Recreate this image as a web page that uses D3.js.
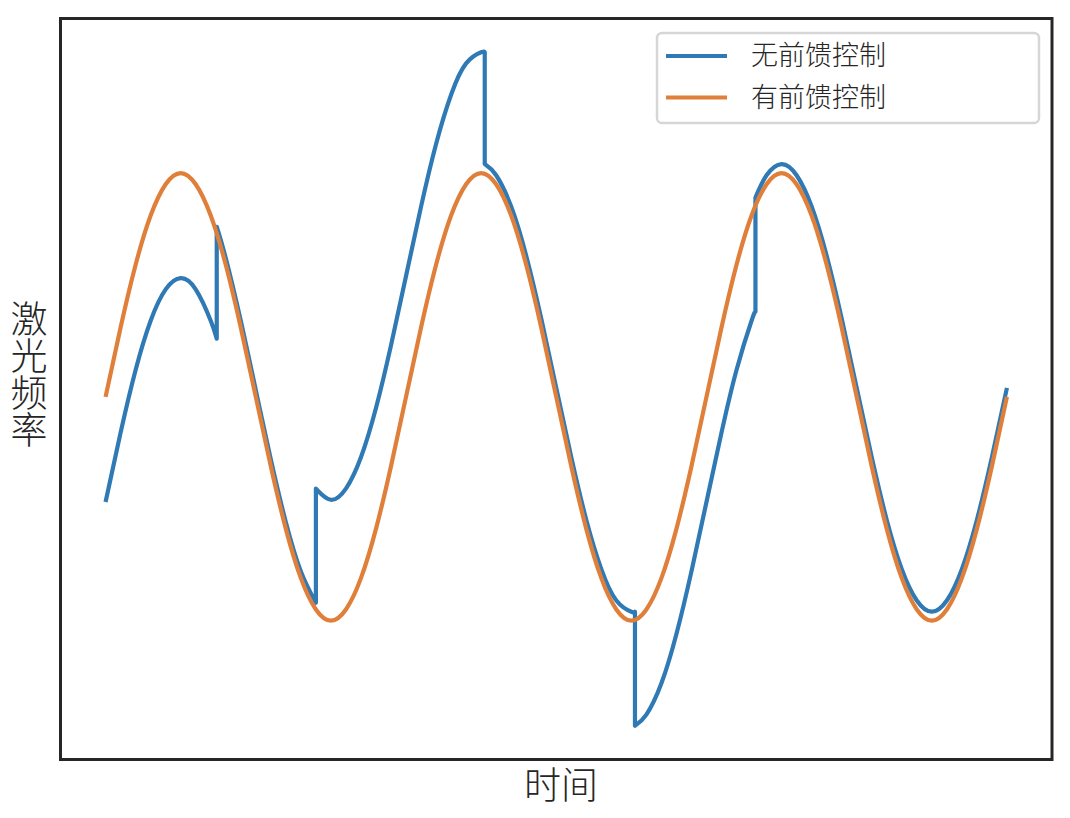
<!DOCTYPE html>
<html>
<head>
<meta charset="utf-8">
<script src="https://cdn.jsdelivr.net/npm/d3@7"></script>
<style>
  html, body { margin: 0; padding: 0; background: #fff; }
  svg { display: block; }
  text { font-family: "Noto Sans CJK SC", "Noto Sans", sans-serif; fill: #262626; }
</style>
</head>
<body>
<svg id="chart" width="1070" height="818"></svg>
<script>
// ---- data ----
const seriesNames = ["无前馈控制", "有前馈控制"];
const xLabel = "时间";
const yLabel = "激光频率";

const orangeT = [0,0.05,0.10,0.15,0.20,0.25,0.30,0.35,0.40,0.45,0.50,0.55,0.60,0.65,0.70,0.75,0.80,0.85,0.90,0.95,
                 1.00,1.05,1.10,1.15,1.20,1.25,1.30,1.35,1.40,1.45,1.50,1.55,1.60,1.65,1.70,1.75,1.80,1.85,1.90,1.95,
                 2.00,2.05,2.10,2.15,2.20,2.25,2.30,2.35,2.40,2.45,2.50,2.55,2.60,2.65,2.70,2.75,2.80,2.85,2.90,2.95,3.00];
const orangeV = [0,0.31,0.59,0.81,0.95,1.00,0.95,0.81,0.59,0.31,0,-0.31,-0.59,-0.81,-0.95,-1.00,-0.95,-0.81,-0.59,-0.31,
                 0,0.31,0.59,0.81,0.95,1.00,0.95,0.81,0.59,0.31,0,-0.31,-0.59,-0.81,-0.95,-1.00,-0.95,-0.81,-0.59,-0.31,
                 0,0.31,0.59,0.81,0.95,1.00,0.95,0.81,0.59,0.31,0,-0.31,-0.59,-0.81,-0.95,-1.00,-0.95,-0.81,-0.59,-0.31,0];

const blueT = [0,0.05,0.10,0.15,0.20,0.25,0.30,0.35,0.37,
               0.37,0.40,0.45,0.50,0.55,0.60,0.65,0.70,
               0.70,0.75,0.80,0.85,0.90,0.95,1.00,1.05,1.10,1.15,1.20,1.25,1.262,
               1.262,1.30,1.35,1.40,1.45,1.50,1.55,1.60,1.65,1.70,1.75,1.762,
               1.762,1.80,1.85,1.90,1.95,2.00,2.05,2.10,2.15,2.163,
               2.163,2.20,2.25,2.30,2.35,2.40,2.45,2.50,2.55,2.60,2.65,2.70,2.75,2.80,2.85,2.90,2.95,3.00];
const blueV = [-0.47,-0.16,0.12,0.34,0.48,0.53,0.48,0.34,0.26,
               0.76,0.62,0.34,0.03,-0.28,-0.56,-0.78,-0.92,
               -0.41,-0.46,-0.41,-0.27,-0.05,0.23,0.54,0.85,1.13,1.35,1.49,1.54,1.54,
               1.04,0.99,0.85,0.63,0.35,0.04,-0.27,-0.55,-0.77,-0.91,-0.96,-0.96,
               -1.47,-1.42,-1.28,-1.06,-0.78,-0.47,-0.16,0.12,0.34,0.38,
               0.89,0.99,1.04,0.99,0.85,0.63,0.35,0.04,-0.27,-0.55,-0.77,-0.91,-0.96,-0.91,-0.77,-0.55,-0.27,0.04];

const colors = ["#2f79b5", "#e07f3a"];

// ---- layout ----
const svg = d3.select("#chart");
const L = 60.5, R = 1052, T = 18.5, B = 759.5;

const allT = orangeT.concat(blueT), allV = orangeV.concat(blueV);
const [tMin, tMax] = d3.extent(allT), [vMin, vMax] = d3.extent(allV);
const padT = (tMax - tMin) * 0.05, padV = (vMax - vMin) * 0.05;
const x = d3.scaleLinear().domain([tMin - padT, tMax + padT]).range([L, R]);
const y = d3.scaleLinear().domain([vMin - padV, vMax + padV]).range([B, T]);

const line = d3.line().x(d => x(d[0])).y(d => y(d[1])).curve(d3.curveNatural);

// split a series into segments at repeated x (jumps), then join them with straight lines
function jumpPath(ts, vs) {
  const segs = [];
  let cur = [];
  ts.forEach((t, i) => {
    if (i > 0 && t === ts[i - 1]) { segs.push(cur); cur = []; }
    cur.push([t, vs[i]]);
  });
  segs.push(cur);
  return segs.map((s, i) => {
    const p = line(s);
    return i === 0 ? p : "L" + p.slice(1);
  }).join("");
}

const g = svg.append("g");
g.append("path").attr("d", jumpPath(blueT, blueV))
  .attr("fill", "none").attr("stroke", colors[0]).attr("stroke-width", 4.2)
  .attr("stroke-linejoin", "round").attr("stroke-linecap", "butt");
g.append("path").attr("d", jumpPath(orangeT, orangeV))
  .attr("fill", "none").attr("stroke", colors[1]).attr("stroke-width", 4.2)
  .attr("stroke-linejoin", "round").attr("stroke-linecap", "butt");

// frame
svg.append("rect").attr("x", L).attr("y", T).attr("width", R - L).attr("height", B - T)
  .attr("fill", "none").attr("stroke", "#262626").attr("stroke-width", 3);

// legend
const lg = svg.append("g");
lg.append("rect").attr("x", 657).attr("y", 33).attr("width", 382).attr("height", 90)
  .attr("rx", 5).attr("fill", "#fff").attr("fill-opacity", 0.8)
  .attr("stroke", "#d6d6d6").attr("stroke-width", 2.5);
seriesNames.forEach((name, i) => {
  const yy = 56 + i * 41.5;
  lg.append("line").attr("x1", 666).attr("x2", 727).attr("y1", yy).attr("y2", yy)
    .attr("stroke", colors[i]).attr("stroke-width", 4.2);
  lg.append("text").attr("x", 751).attr("y", yy).attr("dy", "0.35em")
    .attr("font-size", 27).attr("font-weight", 300).text(name);
});

// axis labels
svg.append("text").attr("x", 561).attr("y", 786).attr("dy", "0.35em")
  .attr("text-anchor", "middle").attr("font-size", 37).attr("font-weight", 300).text(xLabel);
svg.append("text").attr("x", 29).attr("y", 374)
  .attr("text-anchor", "middle").attr("font-size", 37).attr("font-weight", 300)
  .style("writing-mode", "vertical-rl").style("text-orientation", "upright")
  .text(yLabel);
</script>
</body>
</html>
